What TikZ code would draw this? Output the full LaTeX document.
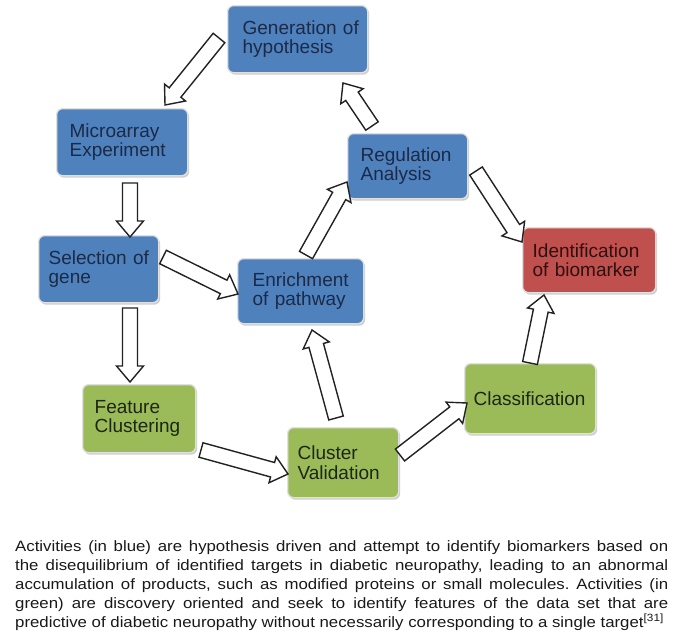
\documentclass[tikz,border=0pt]{standalone}
\usepackage{fontspec}
\setmainfont{Liberation Sans}
\newfontfamily\capfont[FakeStretch=1.12]{Liberation Sans}
\usetikzlibrary{calc,shadows}
\definecolor{bluebox}{HTML}{4F81BD}
\definecolor{redbox}{HTML}{C0504D}
\definecolor{greenbox}{HTML}{9BBB59}
\definecolor{bluetext}{HTML}{1B2A47}
\definecolor{redtext}{HTML}{2E1010}
\definecolor{greentext}{HTML}{1C2614}
\definecolor{arrowline}{HTML}{222222}
\newcommand\blockarrow[2]{%
  \draw[barrow]
    ($(#1)!7.5pt!90:(#2)$) --
    ($(#2)!16pt!(#1)!7.5pt!90:(#2)$) --
    ($(#2)!16pt!(#1)!13.5pt!90:(#2)$) --
    (#2) --
    ($(#2)!16pt!(#1)!13.5pt!-90:(#2)$) --
    ($(#2)!16pt!(#1)!7.5pt!-90:(#2)$) --
    ($(#1)!7.5pt!-90:(#2)$) -- cycle;}
\begin{document}
\begin{tikzpicture}[x=1pt,y=-1pt,
  box/.style={rectangle, rounded corners=6pt, draw=black!12, line width=1.3pt,
    anchor=north west, inner ysep=0pt, align=left,
    font=\fontsize{19}{19.5}\selectfont,
    drop shadow={shadow xshift=1.5pt, shadow yshift=-2pt, opacity=0.35, fill=black!55}},
  bbox/.style={box, fill=bluebox, text=bluetext},
  rbox/.style={box, fill=redbox, text=redtext},
  gbox/.style={box, fill=greenbox, text=greentext},
  barrow/.style={draw=arrowline, fill=white, line width=1.4pt, line join=miter}]
\useasboundingbox (0,0) rectangle (678,637);
\fill[white] (0,0) rectangle (678,637);

% boxes
\node[bbox, inner xsep=15pt, text width=110pt, minimum height=67pt] (gen) at (227,5) {Generation~of\\hypothesis};
\node[bbox, inner xsep=13pt, text width=105pt, minimum height=67pt] (micro) at (56,108) {Microarray\\Experiment};
\node[bbox, inner xsep=10pt, text width=100pt, minimum height=67pt] (sel) at (38,235) {Selection~of\\gene};
\node[bbox, inner xsep=15pt, text width=96pt, minimum height=65pt] (enr) at (237,258) {Enrichment\\of~pathway};
\node[bbox, inner xsep=13pt, text width=94pt, minimum height=65pt] (reg) at (347,133) {Regulation\\Analysis};
\node[rbox, inner xsep=10pt, text width=113pt, minimum height=65pt] (ident) at (522,227) {Identification\\of~biomarker};
\node[gbox, inner xsep=12pt, text width=89pt, minimum height=68pt] (feat) at (82,384) {Feature\\Clustering};
\node[gbox, inner xsep=10pt, text width=91pt, minimum height=70pt] (cval) at (287,427) {Cluster\\Validation};
\node[gbox, inner xsep=9pt, text width=113pt, minimum height=70pt] (clas) at (464,363) {Classification};

% arrow end points
\coordinate (a1s) at (219,38);  \coordinate (a1e) at (165,105);
\coordinate (a2s) at (130,183); \coordinate (a2e) at (130,237);
\coordinate (a3s) at (130,308); \coordinate (a3e) at (130,382);
\coordinate (a4s) at (163,257); \coordinate (a4e) at (238,294);
\coordinate (a5s) at (201,450); \coordinate (a5e) at (288,474);
\coordinate (a6s) at (336,418); \coordinate (a6e) at (312,330);
\coordinate (a7s) at (306,255); \coordinate (a7e) at (347,182);
\coordinate (a8s) at (372,126); \coordinate (a8e) at (343,83);
\coordinate (a9s) at (476,171); \coordinate (a9e) at (522,242);
\coordinate (a10s) at (400,455); \coordinate (a10e) at (467,403);
\coordinate (a11s) at (530,363); \coordinate (a11e) at (544,295);

\blockarrow{a1s}{a1e}
\blockarrow{a2s}{a2e}
\blockarrow{a3s}{a3e}
\blockarrow{a4s}{a4e}
\blockarrow{a5s}{a5e}
\blockarrow{a6s}{a6e}
\blockarrow{a7s}{a7e}
\blockarrow{a8s}{a8e}
\blockarrow{a9s}{a9e}
\blockarrow{a10s}{a10e}
\blockarrow{a11s}{a11e}

% caption
\node[anchor=north west, inner sep=0pt, text width=653pt, text=black!90,
  font=\capfont\fontsize{15}{19}\selectfont, align=justify] (cap) at (15,540)
  {\frenchspacing\parfillskip=0pt Activities (in blue) are hypothesis driven and attempt to identify biomarkers based on\linebreak
   the disequilibrium of identified targets in diabetic neuropathy, leading to an abnormal\linebreak
   accumulation of products, such as modified proteins or small molecules. Activities (in\linebreak
   green) are discovery oriented and seek to identify features of the data set that are\linebreak
   predictive of diabetic neuropathy without necessarily corresponding to a single target\textsuperscript{[31]}};
\end{tikzpicture}
\end{document}
